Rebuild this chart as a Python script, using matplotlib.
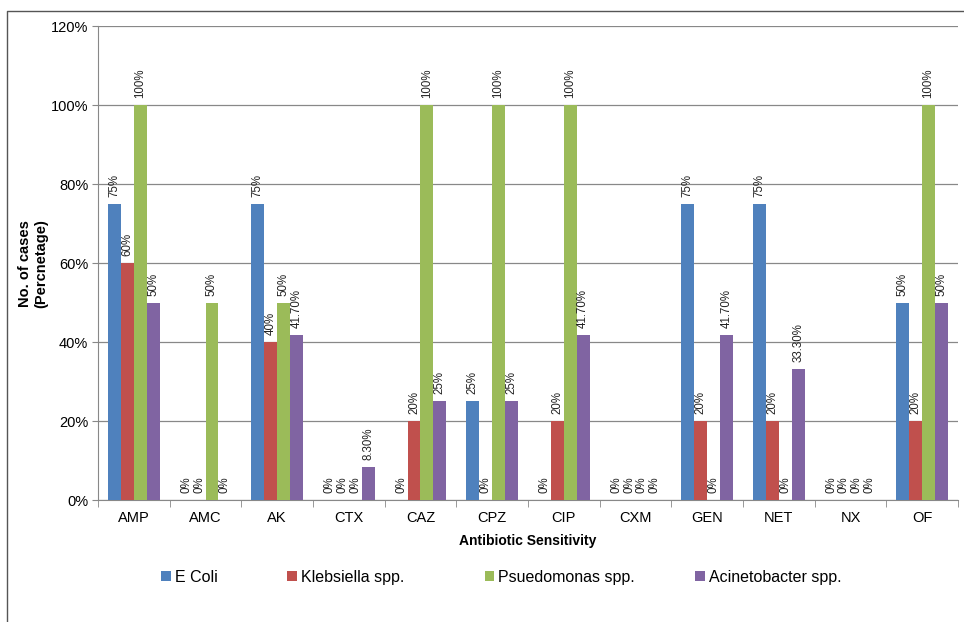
import matplotlib
matplotlib.use("Agg")
import matplotlib.pyplot as plt
from matplotlib.lines import Line2D
import numpy as np

plt.rcParams['font.family'] = ['Liberation Sans', 'DejaVu Sans']

antibiotics = ["AMP", "AMC", "AK", "CTX", "CAZ", "CPZ", "CIP", "CXM", "GEN", "NET", "NX", "OF"]
e_coli = [75, 0, 75, 0, 0, 25, 0, 0, 75, 75, 0, 50]
klebsiella = [60, 0, 40, 0, 20, 0, 20, 0, 20, 20, 0, 20]
pseudomonas = [100, 50, 50, 0, 100, 100, 100, 0, 0, 0, 0, 100]
acinetobacter = [50, 0, 41.7, 8.3, 25, 25, 41.7, 0, 41.7, 33.3, 0, 50]

series_names = ["E Coli", "Klebsiella spp.", "Psuedomonas spp.", "Acinetobacter spp."]
colors = ["#4F81BD", "#C0504D", "#9BBB59", "#8064A2"]
legend_x = [0.167, 0.298, 0.503, 0.721]

fig = plt.figure(figsize=(9.64, 6.22), dpi=100)
ax = fig.add_axes([0.1017, 0.196, 0.892, 0.762])

x = np.arange(len(antibiotics))
width = 0.18
all_series = [e_coli, klebsiella, pseudomonas, acinetobacter]


def fmt(v):
    if float(v).is_integer():
        return f"{int(v)}%"
    return f"{v:.2f}%"


bar_handles = []
for i, (vals, name, col) in enumerate(zip(all_series, series_names, colors)):
    pos = x + (i - 1.5) * width
    bars = ax.bar(pos, vals, width=width, color=col, label=name, zorder=3)
    bar_handles.append(bars)
    for b, v in zip(bars, vals):
        ax.annotate(fmt(v), (b.get_x() + b.get_width() / 2, v),
                    xytext=(0, 5), textcoords="offset points",
                    rotation=90, ha="center", va="bottom", fontsize=8.3,
                    color="#222222")

ax.set_xlim(-0.5, len(antibiotics) - 0.5)
ax.set_ylim(0, 120)
ax.set_yticks(np.arange(0, 121, 20))
ax.set_yticklabels([f"{t}%" for t in range(0, 121, 20)], fontsize=10.5)
ax.set_xticks(x)
ax.set_xticklabels(antibiotics, fontsize=10.5)
ax.tick_params(axis="x", length=0, pad=8)
ax.set_xticks(np.arange(-0.5, len(antibiotics), 1), minor=True)
ax.tick_params(axis="x", which="minor", length=5, color="#888888")
ax.tick_params(axis="y", length=4, color="#888888", pad=3)
ax.yaxis.grid(True, color="#888888", linewidth=0.9, zorder=0)
ax.set_axisbelow(True)
for s in ["top", "right"]:
    ax.spines[s].set_visible(False)
ax.spines["left"].set_color("#888888")
ax.spines["bottom"].set_color("#888888")

ax.set_xlabel("Antibiotic Sensitivity", fontsize=10, fontweight="bold", labelpad=6)
ax.set_ylabel("No. of cases\n(Percnetage)", fontsize=10.5, fontweight="bold", labelpad=2)

# one legend entry per series, spread along the bottom
for h, name, lx in zip(bar_handles, series_names, legend_x):
    leg = fig.legend([h], [name], loc="center left", bbox_to_anchor=(lx, 0.072),
                     frameon=False, fontsize=11.5, handlelength=0.6, handleheight=0.6,
                     handletextpad=0.25, borderaxespad=0, borderpad=0)

# outer chart frame: left and top edges
fig.add_artist(Line2D([0.0075, 0.0075, 1.0], [0.0, 0.982, 0.982],
                      transform=fig.transFigure, color="#555555", linewidth=1.0))

fig.savefig("out.png", dpi=100)
